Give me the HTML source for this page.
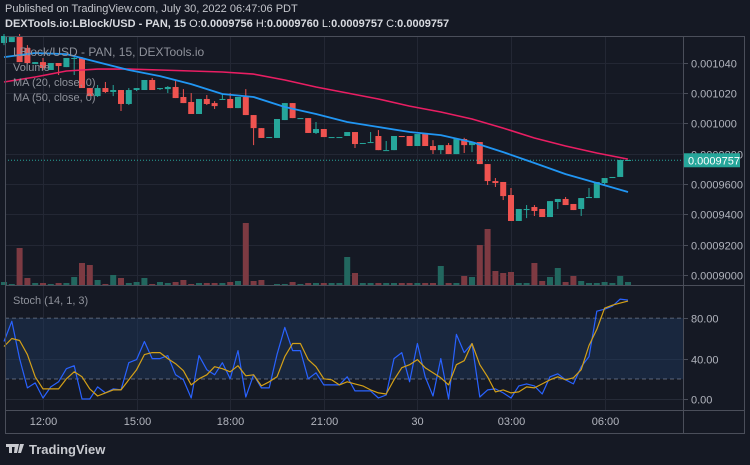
<!DOCTYPE html>
<html><head><meta charset="utf-8">
<style>
html,body{margin:0;padding:0;background:#151924;width:750px;height:465px;overflow:hidden}
svg{display:block;font-family:"Liberation Sans",sans-serif}
</style></head>
<body>
<svg id="chart" width="750" height="465" viewBox="0 0 750 465" xmlns="http://www.w3.org/2000/svg">
<rect x="0" y="0" width="750" height="465" fill="#151924"/>
<text x="5" y="12" font-size="11" fill="#c4c6cc">Published on TradingView.com, July 30, 2022 06:47:06 PDT</text>
<text x="5" y="27" font-size="11" font-weight="bold" fill="#d8dae0">DEXTools.io:LBlock/USD - PAN, 15 <tspan font-weight="normal">O:</tspan>0.0009756 <tspan font-weight="normal">H:</tspan>0.0009760 <tspan font-weight="normal">L:</tspan>0.0009757 <tspan font-weight="normal">C:</tspan>0.0009757</text>
<g id="grid"></g>
<rect x="5" y="318" width="678" height="61" fill="#1e3a5f" fill-opacity="0.45"/>
<g id="vol"></g>
<g id="candles"></g>
<g id="mas"></g>
<g id="stoch"></g>
<g id="axes"></g>
<g font-size="11" fill="#8f929b">
<text x="13" y="56" font-size="12">LBlock/USD - PAN, 15, DEXTools.io</text>
<text x="13" y="71">Volume</text>
<text x="13" y="86">MA (20, close, 0)</text>
<text x="13" y="101">MA (50, close, 0)</text>
<text x="13" y="304">Stoch (14, 1, 3)</text>
</g>
<g fill="none" stroke="#4a4e5a" stroke-width="1">
<rect x="5.5" y="36.5" width="739" height="397"/>
<line x1="683.5" y1="36" x2="683.5" y2="433"/>
<line x1="5" y1="285.5" x2="744" y2="285.5"/>
<line x1="5" y1="410.5" x2="744" y2="410.5"/>
</g>
<g>
<path d="M6 444h9v3h-3v6h-3v-6h-3z M15 444h4l-2 9h-3z M20 444h4l-3 9h-3z" fill="#c8cad0"/>
<text x="29" y="454" font-size="13" font-weight="bold" fill="#c8cad0">TradingView</text>
</g>
</svg>
<script>
// price in units of 1e-7
const opens =  [10530,10536,10576,10497,10391,10404,10352,10398,10371,10431,10431,10233,10180,10233,10207,10220,10128,10220,10220,10286,10226,10226,10240,10174,10141,10062,10161,10134,10161,10161,10101,10174,10055,9969,9910,9904,10022,10134,10035,10035,9937,9963,9910,9910,9917,9943,9871,9877,9917,9824,9824,9917,9917,9851,9930,9851,9824,9857,9798,9897,9857,9877,9732,9620,9614,9528,9357,9429,9449,9436,9383,9482,9502,9469,9436,9508,9508,9607,9640,9647,9759];
const closes = [10576,10569,10404,10398,10404,10365,10398,10378,10431,10431,10233,10180,10233,10207,10220,10128,10220,10233,10286,10220,10233,10240,10167,10134,10062,10161,10128,10114,10161,10101,10174,10055,9969,9904,9910,10029,10134,10035,10035,9937,9963,9910,9910,9910,9943,9864,9871,9877,9824,9824,9917,9910,9851,9930,9851,9824,9857,9798,9897,9857,9877,9732,9620,9607,9521,9357,9436,9436,9423,9383,9488,9502,9462,9429,9508,9515,9614,9640,9647,9759,9759];
const highs =  [10589,10576,10589,10516,10404,10431,10398,10398,10431,10437,10437,10233,10253,10273,10253,10220,10233,10233,10286,10299,10233,10246,10286,10226,10200,10161,10187,10147,10194,10200,10174,10226,10055,9969,9910,10029,10134,10134,10035,10035,10009,9963,9910,9910,9917,9943,9871,9943,9956,9884,9917,9917,9917,9851,9930,9890,9824,9871,9811,9905,9857,9877,9732,9640,9614,9574,9436,9462,9462,9436,9488,9502,9515,9469,9508,9574,9614,9627,9640,9647,9759];
const lows =   [10516,10536,10404,10391,10391,10352,10352,10319,10371,10319,10233,10180,10174,10200,10180,10082,10121,10213,10220,10220,10220,10200,10167,10134,10062,10062,10121,10095,10161,10101,10101,10055,9857,9904,9904,9904,10022,10035,10035,9937,9930,9910,9910,9910,9917,9838,9871,9871,9824,9824,9824,9910,9851,9851,9851,9798,9798,9798,9798,9805,9811,9732,9594,9581,9495,9357,9357,9376,9390,9383,9383,9436,9462,9429,9390,9508,9508,9594,9640,9647,9759];
const volumes = [30,10,370,70,20,20,10,20,20,80,220,200,50,10,100,70,20,30,70,10,30,20,30,50,10,20,20,20,20,30,40,620,40,50,0,10,10,30,10,20,20,20,20,20,280,120,20,20,20,20,20,20,20,20,20,20,190,20,20,90,80,400,560,140,120,130,20,20,220,40,80,170,30,90,40,20,20,30,20,90,30];
const maIdx = [0,4,8,12,16,20,24,28,32,36,40,44,48,52,56,60,64,68,72,76,80];
const ma20 = [10437,10464,10457,10404,10352,10312,10259,10194,10174,10108,10062,10009,9976,9943,9923,9877,9811,9739,9666,9607,9548];
const ma50 = [10273,10306,10345,10358,10358,10352,10345,10339,10325,10286,10240,10200,10161,10114,10075,10029,9969,9904,9851,9805,9765];
const stochK = [57,77,40,11,16,1,12,17,30,33,0,0,12,6,10,9,36,39,57,40,40,43,24,19,1,43,29,24,36,20,48,2,24,11,11,44,71,48,48,20,26,14,14,14,22,8,8,8,1,4,40,46,17,55,22,3,40,0,64,46,55,2,9,10,6,1,13,15,13,5,22,25,19,15,32,42,87,89,92,99,98];
const stochD = [52,60,58,44,22,10,10,10,20,27,22,10,3,6,9,9,19,29,44,46,46,40,35,28,14,20,24,32,30,27,33,23,24,13,17,22,42,55,55,39,32,20,19,14,17,15,13,9,6,5,19,31,34,39,31,26,21,14,34,38,55,34,22,7,9,6,7,12,11,15,19,22,19,21,29,53,69,90,93,95,97];
const priceTicks = [10400,10200,10000,9800,9600,9400,9200,9000];
const priceTickLabels = ["0.001040","0.001020","0.001000","0.0009800","0.0009600","0.0009400","0.0009200","0.0009000"];
const stochTicks = [80,40,0];
const stochTickLabels = ["80.00","40.00","0.00"];
const timeIdx = [5,17,29,41,53,65,77];
const timeLabels = ["12:00","15:00","18:00","21:00","30","03:00","06:00"];
const lastPrice = 9757;

const NS="http://www.w3.org/2000/svg";
const xOf = i => 4 + i*7.8;
const yP = p => 62.7 + (10400 - p)*0.15175;
const yV = v => 285 - v/10;
const yS = s => 399 - s*1.009;
function mk(tag, attrs, parent){const e=document.createElementNS(NS,tag);for(const k in attrs)e.setAttribute(k,attrs[k]);parent.appendChild(e);return e;}
const G=id=>document.getElementById(id);
const grid=G('grid'), vol=G('vol'), cg=G('candles'), mas=G('mas'), st=G('stoch'), ax=G('axes');

priceTicks.forEach((p,k)=>{
  const y=Math.round(yP(p))+0.5;
  const l=mk('line',{x1:5,x2:683,y1:y,y2:y,stroke:'#232734','stroke-width':1},grid);
  
  
  mk('line',{x1:683,x2:688,y1:y,y2:y,stroke:'#4a4e5a'},ax);
  const t=mk('text',{x:691,y:y+4,'font-size':11,fill:'#b2b5be'},ax);
  t.textContent=priceTickLabels[k];
  
  
});
stochTicks.forEach((s,k)=>{
  const y=Math.round(yS(s))+0.5;
  if(s===40||s===0){const l=mk('line',{x1:5,x2:683,y1:y,y2:y,stroke:'#262b38'},grid);
    
    }
  mk('line',{x1:683,x2:688,y1:y,y2:y,stroke:'#4a4e5a'},ax);
  const t=mk('text',{x:691,y:y+4,'font-size':11,fill:'#b2b5be'},ax);
  t.textContent=stochTickLabels[k];
  
  
});
[80,20].forEach(s=>{const y=yS(s);
  const l=mk('line',{x1:5,x2:683,y1:y,y2:y,stroke:'#787b86','stroke-dasharray':'4,3','stroke-width':1},grid);
  
  });
timeIdx.forEach((i,k)=>{
  const x=Math.round(xOf(i))+0.5;
  const l=mk('line',{x1:x,x2:x,y1:37,y2:410,stroke:'#232734'},grid);
  
  
  const t=mk('text',{x:x,y:425,'font-size':11,fill:'#b2b5be','text-anchor':'middle'},ax);
  t.textContent=timeLabels[k];
  
  
});

volumes.forEach((v,i)=>{
  const up=closes[i]>=opens[i];
  const r=mk('rect',{x:xOf(i)-3,y:yV(v),width:6,height:Math.max(0.5,285-yV(v)),fill:up?'#22675f':'#7d3a42'},vol);
  
  
});
opens.forEach((o,i)=>{
  const c=closes[i], up=c>=o, col=up?'#26a69a':'#ef5350', x=xOf(i);
  const w=mk('line',{x1:x,x2:x,y1:yP(highs[i]),y2:yP(lows[i]),stroke:col,'stroke-width':1},cg);
  
  
  const top=yP(Math.max(o,c)), h=Math.max(1,Math.abs(yP(o)-yP(c)));
  const b=mk('rect',{x:x-3,y:top,width:6,height:h,fill:col},cg);
  
  
});
const ly=yP(lastPrice);
const dl=mk('line',{x1:5,x2:683,y1:ly,y2:ly,stroke:'#26a69a','stroke-dasharray':'1,2','stroke-width':1},cg);


const lb=mk('rect',{x:684,y:ly-7,width:56,height:14,fill:'#26a69a'},ax);


const lt=mk('text',{x:688,y:ly+4,'font-size':11,fill:'#ffffff'},ax);
lt.textContent=(lastPrice/1e7).toFixed(7);



function line(vals,idx,yf,col,w,parent,name){
  const pts=vals.map((v,k)=>xOf(idx?idx[k]:k).toFixed(1)+','+yf(v).toFixed(1)).join(' ');
  const p=mk('polyline',{points:pts,fill:'none',stroke:col,'stroke-width':w,'stroke-linejoin':'round'},parent);
  
  
}
line(ma50,maIdx,yP,'#e91e63',1.6,mas,'ma50-line');
line(ma20,maIdx,yP,'#2196f3',1.8,mas,'ma20-line');
line(stochK,null,yS,'#2962ff',1.2,st,'stoch-k-line');
line(stochD,null,yS,'#d4a017',1.2,st,'stoch-d-line');
</script>
</body></html>
